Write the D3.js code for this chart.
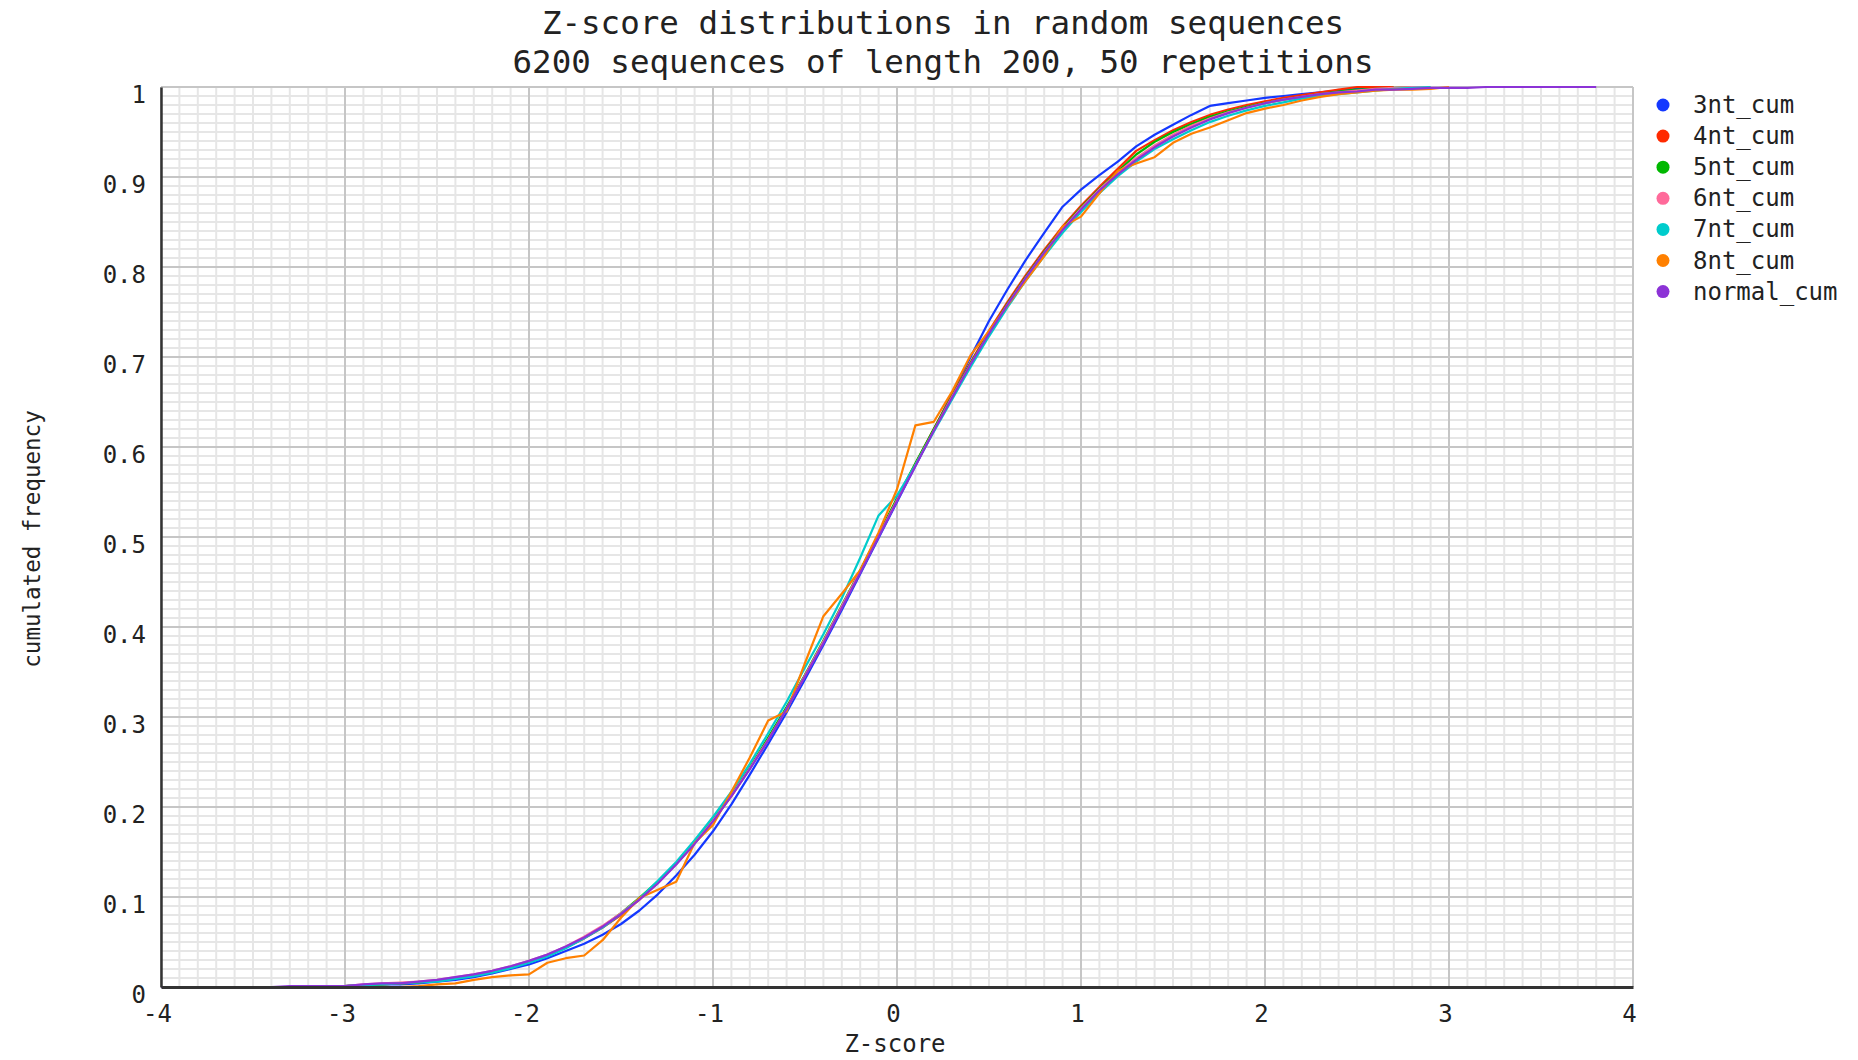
<!DOCTYPE html>
<html>
<head>
<meta charset="utf-8">
<title>Z-score distributions in random sequences</title>
<script src="https://cdn.jsdelivr.net/npm/d3@7"></script>
<style>
  body { margin: 0; background: #fff; }
  svg text { font-family: "DejaVu Sans Mono", monospace; fill: #222; }
</style>
</head>
<body>
<div id="chart"></div>
<script>
(function(d3) {
'use strict';

// z-score bins (0.1 wide)
var zscores = [-4,-3.9,-3.8,-3.7,-3.6,-3.5,-3.4,-3.3,-3.2,-3.1,
  -3,-2.9,-2.8,-2.7,-2.6,-2.5,-2.4,-2.3,-2.2,-2.1,
  -2,-1.9,-1.8,-1.7,-1.6,-1.5,-1.4,-1.3,-1.2,-1.1,
  -1,-0.9,-0.8,-0.7,-0.6,-0.5,-0.4,-0.3,-0.2,-0.1,
  0,0.1,0.2,0.3,0.4,0.5,0.6,0.7,0.8,0.9,
  1,1.1,1.2,1.3,1.4,1.5,1.6,1.7,1.8,1.9,
  2,2.1,2.2,2.3,2.4,2.5,2.6,2.7,2.8,2.9,
  3,3.1,3.2,3.3,3.4,3.5,3.6,3.7,3.8];

var cum3nt = [0,0,0,0,0,0,0,0,0,0,
  0.001,0.002,0.003,0.003,0.004,0.006,0.008,0.011,0.015,0.020,
  0.025,0.032,0.040,0.048,0.058,0.070,0.085,0.103,0.124,0.147,
  0.173,0.203,0.236,0.270,0.305,0.342,0.380,0.419,0.459,0.499,
  0.539,0.579,0.619,0.660,0.700,0.740,0.775,0.808,0.838,0.867,
  0.886,0.902,0.917,0.934,0.947,0.958,0.969,0.979,0.982,0.985,
  0.988,0.990,0.992,0.994,0.996,0.998,1];

var cum4nt = [0,0,0,0,0,0,0,0,0,0,
  0.001,0.002,0.003,0.004,0.005,0.007,0.010,0.013,0.017,0.022,
  0.028,0.035,0.044,0.054,0.066,0.080,0.097,0.116,0.137,0.160,
  0.185,0.212,0.243,0.276,0.310,0.346,0.383,0.422,0.462,0.502,
  0.542,0.581,0.620,0.658,0.694,0.729,0.761,0.791,0.819,0.845,
  0.868,0.889,0.909,0.929,0.941,0.952,0.961,0.969,0.975,0.980,
  0.984,0.988,0.991,0.994,0.997,1,1,1];

var cum5nt = [0,0,0,0,0,0,0,0,0,0,
  0.001,0.002,0.003,0.004,0.005,0.007,0.010,0.013,0.017,0.022,
  0.028,0.035,0.044,0.055,0.067,0.082,0.099,0.117,0.137,0.160,
  0.186,0.214,0.244,0.277,0.311,0.347,0.385,0.424,0.463,0.503,
  0.543,0.582,0.620,0.657,0.693,0.727,0.759,0.789,0.817,0.843,
  0.866,0.887,0.906,0.925,0.939,0.950,0.959,0.967,0.973,0.978,
  0.982,0.986,0.989,0.992,0.995,0.997,0.998,0.999,1];

var cum6nt = [0,0,0,0,0,0,0,0,0,0,
  0.001,0.003,0.004,0.005,0.006,0.008,0.011,0.014,0.018,0.023,
  0.029,0.036,0.045,0.056,0.068,0.082,0.098,0.116,0.137,0.160,
  0.185,0.213,0.243,0.275,0.309,0.346,0.384,0.423,0.462,0.501,
  0.541,0.580,0.618,0.656,0.692,0.726,0.758,0.788,0.816,0.842,
  0.865,0.886,0.905,0.921,0.935,0.947,0.957,0.965,0.972,0.977,
  0.982,0.986,0.989,0.992,0.994,0.996,0.998,0.999,1,1];

var cum7nt = [0,0,0,0,0,0,0,0,0,0,
  0.001,0.002,0.003,0.004,0.005,0.006,0.009,0.012,0.016,0.021,
  0.027,0.034,0.043,0.054,0.066,0.081,0.098,0.118,0.139,0.163,
  0.189,0.217,0.248,0.282,0.317,0.355,0.392,0.432,0.477,0.524,
  0.546,0.580,0.617,0.653,0.689,0.723,0.755,0.785,0.812,0.838,
  0.861,0.882,0.901,0.917,0.931,0.942,0.952,0.961,0.968,0.974,
  0.979,0.983,0.987,0.990,0.992,0.994,0.996,0.998,0.999,1];

var cum8nt = [0,0,0,0,0,0,0,0,0,0,
  0,0,0,0,0.001,0.003,0.004,0.008,0.011,0.013,
  0.014,0.027,0.032,0.035,0.052,0.077,0.099,0.108,0.117,0.160,
  0.180,0.217,0.255,0.296,0.306,0.360,0.412,0.437,0.463,0.505,
  0.553,0.624,0.628,0.662,0.702,0.729,0.757,0.785,0.812,0.845,
  0.856,0.882,0.907,0.915,0.922,0.938,0.948,0.955,0.963,0.971,
  0.976,0.980,0.985,0.989,0.992,0.994,0.996,0.997,0.997,0.998,
  1];

var normalCum = [0,0,0,0,0,0,0,0.001,0.001,0.001,
  0.001,0.003,0.004,0.004,0.006,0.008,0.011,0.014,0.018,0.023,
  0.029,0.036,0.045,0.055,0.067,0.081,0.097,0.115,0.136,0.159,
  0.184,0.212,0.242,0.274,0.309,0.345,0.382,0.421,0.460,0.500,
  0.540,0.579,0.618,0.655,0.692,0.726,0.758,0.788,0.816,0.841,
  0.864,0.885,0.903,0.919,0.933,0.945,0.955,0.964,0.971,0.977,
  0.982,0.986,0.989,0.992,0.994,0.995,0.997,0.997,0.998,0.999,
  0.999,0.999,1,1,1,1,1,1,1];

var seriesNames = ['3nt_cum', '4nt_cum', '5nt_cum', '6nt_cum', '7nt_cum', '8nt_cum', 'normal_cum'];
var seriesValues = [cum3nt, cum4nt, cum5nt, cum6nt, cum7nt, cum8nt, normalCum];
var seriesColors = ['#1438ff', '#ff2a00', '#00b800', '#ff6a9a', '#00cccc', '#ff8000', '#8c33d6'];

var xTicks = [-4, -3, -2, -1, 0, 1, 2, 3, 4];
var xTickLabels = ['-4', '-3', '-2', '-1', '0', '1', '2', '3', '4'];
var yTicks = [0, 0.1, 0.2, 0.3, 0.4, 0.5, 0.6, 0.7, 0.8, 0.9, 1];
var yTickLabels = ['0', '0.1', '0.2', '0.3', '0.4', '0.5', '0.6', '0.7', '0.8', '0.9', '1'];

var width = 1858;
var height = 1060;
var plot = {left: 161, right: 1633, top: 87, bottom: 987};

var x = d3.scaleLinear().domain([-4, 4]).range([plot.left, plot.right]);
var y = d3.scaleLinear().domain([0, 1]).range([plot.bottom, plot.top]);

var svg = d3.select('#chart')
  .append('svg')
  .attr('width', width)
  .attr('height', height);

// minor grid
var grid = svg.append('g');
grid.selectAll('.vminor')
  .data(x.ticks(80))
  .enter().append('line')
  .attr('x1', function(d) { return x(d); })
  .attr('x2', function(d) { return x(d); })
  .attr('y1', plot.top).attr('y2', plot.bottom)
  .attr('stroke', '#e6e6e6').attr('stroke-width', 2);
grid.selectAll('.hminor')
  .data(y.ticks(100))
  .enter().append('line')
  .attr('y1', function(d) { return y(d); })
  .attr('y2', function(d) { return y(d); })
  .attr('x1', plot.left).attr('x2', plot.right)
  .attr('stroke', '#e6e6e6').attr('stroke-width', 2);

// major grid
grid.selectAll('.vmajor')
  .data(xTicks)
  .enter().append('line')
  .attr('x1', function(d) { return x(d); })
  .attr('x2', function(d) { return x(d); })
  .attr('y1', plot.top).attr('y2', plot.bottom)
  .attr('stroke', '#c6c6c6').attr('stroke-width', 2);
grid.selectAll('.hmajor')
  .data(yTicks)
  .enter().append('line')
  .attr('y1', function(d) { return y(d); })
  .attr('y2', function(d) { return y(d); })
  .attr('x1', plot.left).attr('x2', plot.right)
  .attr('stroke', '#c6c6c6').attr('stroke-width', 2);

// series
var line = d3.line()
  .x(function(d, i) { return x(zscores[i]); })
  .y(function(d) { return y(d); });

svg.append('g').selectAll('path')
  .data(seriesValues)
  .enter().append('path')
  .attr('d', line)
  .attr('fill', 'none')
  .attr('stroke', function(d, i) { return seriesColors[i]; })
  .attr('stroke-width', 2.2)
  .attr('stroke-linejoin', 'round');

// axes
var yAxis = svg.append('g')
  .attr('transform', 'translate(' + plot.left + ',0)')
  .call(d3.axisLeft(y)
    .tickValues(yTicks)
    .tickFormat(function(d, i) { return yTickLabels[i]; })
    .tickSize(0)
    .tickPadding(15));
yAxis.attr('font-size', null).attr('font-family', null);
yAxis.select('.domain').attr('stroke', '#333').attr('stroke-width', 2.5);
yAxis.selectAll('text').attr('dy', 15).style('font-size', '24px');

var xAxis = svg.append('g')
  .attr('transform', 'translate(0,' + plot.bottom + ')')
  .call(d3.axisBottom(x)
    .tickValues(xTicks)
    .tickFormat(function(d, i) { return xTickLabels[i]; })
    .tickSize(0)
    .tickPadding(18));
xAxis.attr('font-size', null).attr('font-family', null);
xAxis.select('.domain').attr('stroke', '#333').attr('stroke-width', 3);
xAxis.selectAll('text').attr('dx', -4).style('font-size', '24px');

// titles
svg.append('text')
  .attr('x', 943).attr('y', 34)
  .attr('text-anchor', 'middle')
  .style('font-size', '32.5px')
  .text('Z-score distributions in random sequences');
svg.append('text')
  .attr('x', 943).attr('y', 73)
  .attr('text-anchor', 'middle')
  .style('font-size', '32.5px')
  .text('6200 sequences of length 200, 50 repetitions');

svg.append('text')
  .attr('x', 895).attr('y', 1052)
  .attr('text-anchor', 'middle')
  .style('font-size', '24px')
  .text('Z-score');

svg.append('text')
  .attr('transform', 'translate(40,539) rotate(-90)')
  .attr('text-anchor', 'middle')
  .style('font-size', '22.5px')
  .text('cumulated frequency');

// legend
var legend = svg.append('g')
  .attr('transform', 'translate(1663,105)');
var item = legend.selectAll('g')
  .data(seriesNames)
  .enter().append('g')
  .attr('transform', function(d, i) { return 'translate(0,' + (i * 31.1) + ')'; });
item.append('circle')
  .attr('r', 6.5)
  .attr('fill', function(d, i) { return seriesColors[i]; });
item.append('text')
  .attr('x', 30).attr('y', 8)
  .style('font-size', '24px')
  .text(function(d) { return d; });

})(window.d3);
</script>
</body>
</html>
